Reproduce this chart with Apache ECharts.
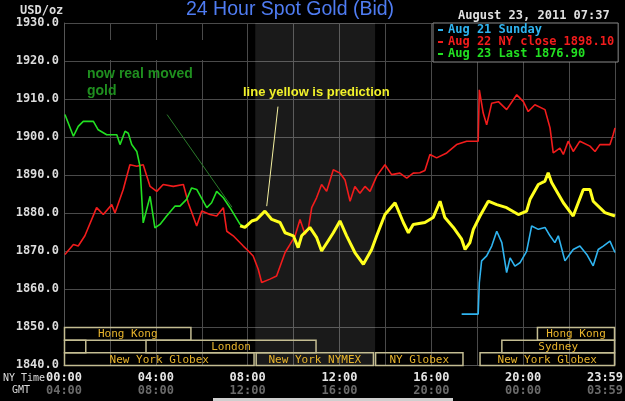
<!DOCTYPE html>
<html>
<head>
<meta charset="utf-8">
<script src="https://cdn.jsdelivr.net/npm/echarts@6/dist/echarts.min.js"></script>
<style>
  html, body { margin: 0; padding: 0; background: #000; }
  #chart { width: 625px; height: 401px; }
</style>
</head>
<body>
<div id="chart"></div>
<script>
// NY time in hours, price in USD/oz
var aug21Sunday = [
    [17.32, 1853.4], [18.04, 1853.4], [18.09, 1861.7], [18.19, 1867.4], [18.41, 1868.7],
    [18.63, 1871.3], [18.85, 1875.2], [19.07, 1872.2], [19.28, 1864.3], [19.43, 1868.2],
    [19.64, 1866.0], [19.86, 1866.9], [20.15, 1869.9], [20.37, 1876.6], [20.66, 1875.7],
    [20.95, 1876.2], [21.17, 1874.0], [21.38, 1872.2], [21.53, 1874.0], [21.82, 1867.4],
    [22.18, 1870.4], [22.47, 1871.3], [22.77, 1869.1], [23.05, 1866.1], [23.27, 1870.4],
    [23.49, 1871.3], [23.78, 1872.6], [24.0, 1869.6]
];
var aug22Close = [
    [0.04, 1869.1], [0.41, 1871.7], [0.62, 1871.3], [0.91, 1874.0], [1.42, 1881.4],
    [1.71, 1879.6], [2.08, 1882.2], [2.22, 1880.0], [2.58, 1886.2], [2.87, 1892.7],
    [3.17, 1892.3], [3.45, 1892.7], [3.75, 1887.0], [4.04, 1885.7], [4.32, 1887.5],
    [4.76, 1887.0], [5.20, 1887.5], [5.41, 1882.7], [5.78, 1876.6], [6.00, 1880.5],
    [6.36, 1879.6], [6.65, 1879.2], [6.94, 1881.4], [7.09, 1875.2], [7.37, 1874.0],
    [7.81, 1871.3], [8.03, 1870.0], [8.24, 1868.7], [8.46, 1865.2], [8.61, 1861.7],
    [8.97, 1862.6], [9.26, 1863.4], [9.63, 1869.6], [9.84, 1871.7], [10.06, 1873.9],
    [10.28, 1878.3], [10.50, 1874.4], [10.64, 1875.8], [10.79, 1881.4], [11.00, 1884.0],
    [11.22, 1887.5], [11.44, 1885.7], [11.73, 1891.4], [12.02, 1890.5], [12.24, 1888.7],
    [12.46, 1883.1], [12.67, 1887.0], [12.89, 1885.2], [13.11, 1887.0], [13.33, 1885.7],
    [13.62, 1889.7], [13.98, 1892.7], [14.27, 1890.1], [14.63, 1890.5], [14.93, 1889.2],
    [15.21, 1890.5], [15.50, 1890.6], [15.72, 1891.2], [15.94, 1895.4], [16.23, 1894.5],
    [16.67, 1895.8], [17.10, 1898.0], [17.54, 1898.9], [18.04, 1898.9], [18.09, 1912.4],
    [18.26, 1906.3], [18.41, 1903.2], [18.63, 1908.9], [18.92, 1909.3], [19.28, 1907.2],
    [19.72, 1911.1], [20.01, 1909.3], [20.22, 1906.7], [20.51, 1908.5], [20.95, 1907.2],
    [21.17, 1902.4], [21.31, 1895.8], [21.60, 1897.1], [21.75, 1895.4], [21.96, 1898.9],
    [22.18, 1896.2], [22.47, 1898.9], [22.91, 1897.6], [23.13, 1896.2], [23.34, 1898.0],
    [23.78, 1898.0], [23.92, 1900.6], [24.0, 1902.4]
];
var aug23Last = [
    [0.04, 1905.9], [0.41, 1900.2], [0.62, 1902.8], [0.84, 1904.1], [1.28, 1904.1],
    [1.49, 1901.9], [1.86, 1900.6], [2.30, 1900.6], [2.44, 1898.0], [2.66, 1901.5],
    [2.80, 1901.0], [2.95, 1898.0], [3.17, 1896.2], [3.31, 1892.3], [3.45, 1877.4],
    [3.75, 1884.4], [3.96, 1876.1], [4.18, 1877.0], [4.47, 1879.2], [4.83, 1881.8],
    [5.05, 1881.8], [5.34, 1883.6], [5.56, 1886.6], [5.78, 1886.2], [6.22, 1881.4],
    [6.43, 1882.7], [6.65, 1885.7], [6.94, 1884.0], [7.23, 1881.4], [7.67, 1877.0],
    [7.81, 1876.6]
];
var prediction = [
    [7.67, 1876.6], [7.88, 1876.2], [8.18, 1877.9], [8.39, 1878.3], [8.75, 1880.5],
    [9.05, 1878.3], [9.41, 1877.5], [9.63, 1874.8], [9.99, 1874.0], [10.20, 1870.9],
    [10.35, 1874.0], [10.71, 1876.2], [11.00, 1873.6], [11.22, 1870.0], [11.51, 1872.7],
    [11.73, 1874.8], [12.02, 1877.9], [12.31, 1874.0], [12.67, 1869.6], [13.04, 1866.5],
    [13.40, 1870.4], [13.62, 1874.0], [13.98, 1879.6], [14.42, 1882.7], [14.78, 1877.5],
    [15.00, 1874.8], [15.21, 1877.0], [15.72, 1877.5], [16.08, 1878.8], [16.38, 1883.1],
    [16.59, 1878.8], [16.96, 1876.2], [17.32, 1873.1], [17.47, 1870.4], [17.68, 1872.2],
    [17.83, 1875.7], [18.12, 1879.2], [18.48, 1883.1], [18.85, 1882.2], [19.28, 1881.4],
    [19.79, 1879.6], [20.15, 1880.5], [20.30, 1883.6], [20.66, 1887.5], [20.95, 1888.4],
    [21.09, 1890.6], [21.24, 1888.0], [21.75, 1882.7], [22.18, 1879.2], [22.40, 1882.7],
    [22.62, 1886.2], [22.91, 1886.2], [23.05, 1883.1], [23.56, 1880.1], [24.0, 1879.2]
];
// market sessions: [start, end, row, label]
var sessions = [
    [0, 5.55, 0, 'Hong Kong'],
    [20.6, 24, 0, 'Hong Kong'],
    [0, 0.97, 1, ''],
    [3.55, 11.0, 1, 'London'],
    [19.05, 24, 1, 'Sydney'],
    [0, 8.3, 2, 'New York Globex'],
    [8.35, 13.5, 2, 'New York NYMEX'],
    [13.55, 17.4, 2, 'NY Globex'],
    [18.1, 24, 2, 'New York Globex']
];
var nymexShade = [8.33, 13.55];
var sessionRows = ['r0', 'r1', 'r2'];
var mono = 'DejaVu Sans Mono';

function pad(n) { return (n < 10 ? '0' : '') + n; }

var chart = echarts.init(document.getElementById('chart'));

var option = {
    backgroundColor: '#000',
    animation: false,
    title: {
        text: '24 Hour Spot Gold (Bid)',
        left: 186, top: 0, padding: 0,
        textStyle: { color: '#4f7cf2', fontSize: 19.5, fontWeight: 'normal', fontFamily: 'Liberation Sans' }
    },
    legend: {
        orient: 'vertical',
        left: 433, top: 23,
        icon: 'rect', itemWidth: 5, itemHeight: 2, itemGap: 0,
        padding: [1, 4, 2, 5],
        backgroundColor: '#000', borderColor: '#8a8a8a', borderWidth: 1, borderRadius: 0,
        selectedMode: false,
        textStyle: { fontFamily: mono, fontSize: 12, fontWeight: 'bold', lineHeight: 12 },
        data: [
            { name: 'Aug 21 Sunday', textStyle: { color: '#2fb4f0' } },
            { name: 'Aug 22 NY close 1898.10', textStyle: { color: '#f21c1c' } },
            { name: 'Aug 23 Last 1876.90', textStyle: { color: '#22e022' } }
        ]
    },
    grid: [
        { left: 64, right: 10, top: 23, bottom: 36, containLabel: false, outerBoundsMode: 'none' },
        { left: 64, right: 10, top: 327, height: 38, containLabel: false, outerBoundsMode: 'none' }
    ],
    xAxis: [{
        type: 'value', min: 0, max: 24, interval: 2,
        axisLine: { lineStyle: { color: '#555' } },
        axisTick: { show: false },
        splitLine: { lineStyle: { color: '#4a4a4a' } },
        axisLabel: {
            margin: 6,
            formatter: function (v) {
                if (v % 4 !== 0) return '';
                if (v === 24) return '{al|23:59}\n{bl|03:59}';
                return '{a|' + pad(v) + ':00}\n{b|' + pad((v + 4) % 24) + ':00}';
            },
            rich: {
                a: { color: '#e6e6e6', fontFamily: mono, fontSize: 12, fontWeight: 'bold', lineHeight: 13 },
                b: { color: '#6a6a6a', fontFamily: mono, fontSize: 12, fontWeight: 'bold', lineHeight: 13 },
                al: { color: '#e6e6e6', fontFamily: mono, fontSize: 12, fontWeight: 'bold', lineHeight: 13, padding: [0, 20, 0, 0] },
                bl: { color: '#6a6a6a', fontFamily: mono, fontSize: 12, fontWeight: 'bold', lineHeight: 13, padding: [0, 20, 0, 0] }
            }
        }
    }, {
        gridIndex: 1, type: 'value', min: 0, max: 24, show: false
    }],
    yAxis: [{
        type: 'value', min: 1840, max: 1930, interval: 10,
        axisLine: { show: true, lineStyle: { color: '#555' } },
        axisTick: { show: false },
        splitLine: { lineStyle: { color: '#4a4a4a' } },
        axisLabel: {
            margin: 5,
            color: '#dcdcdc', fontFamily: mono, fontSize: 12, fontWeight: 'bold',
            formatter: function (v) { return v.toFixed(1); }
        }
    }, {
        gridIndex: 1, type: 'category', data: sessionRows, inverse: true, show: false
    }],
    series: [{
        name: 'Aug 22 NY close 1898.10',
        type: 'line', showSymbol: false, data: aug22Close,
        lineStyle: { color: '#f21c1c', width: 1.6 }, itemStyle: { color: '#f21c1c' },
        markArea: {
            silent: true,
            itemStyle: { color: 'rgba(255,255,255,0.1)' },
            data: [[{ xAxis: nymexShade[0], yAxis: 1840 }, { xAxis: nymexShade[1], yAxis: 1930 }]]
        },
        z: 3
    }, {
        name: 'Aug 21 Sunday',
        type: 'line', showSymbol: false, data: aug21Sunday,
        lineStyle: { color: '#2fb4f0', width: 1.6 }, itemStyle: { color: '#2fb4f0' },
        z: 3
    }, {
        name: 'Aug 23 Last 1876.90',
        type: 'line', showSymbol: false, data: aug23Last,
        lineStyle: { color: '#22e022', width: 1.6 }, itemStyle: { color: '#22e022' },
        markLine: {
            silent: true, symbol: 'none', label: { show: false },
            lineStyle: { color: '#2a7a2a', width: 1, type: 'solid' },
            data: [[{ coord: [4.49, 1905.9] }, { coord: [7.32, 1881.5] }]]
        },
        z: 3
    }, {
        name: 'prediction',
        type: 'line', showSymbol: false, data: prediction,
        lineStyle: { color: '#ffff1e', width: 3 }, itemStyle: { color: '#ffff1e' },
        markLine: {
            silent: true, symbol: 'none', label: { show: false },
            lineStyle: { color: '#f4f0a0', width: 1, type: 'solid' },
            data: [[{ coord: [8.83, 1881.8] }, { coord: [9.32, 1908.0] }]]
        },
        z: 4
    }, {
        type: 'custom',
        xAxisIndex: 1, yAxisIndex: 1,
        data: sessions,
        silent: true,
        renderItem: function (params, api) {
            var p0 = api.coord([api.value(0), api.value(2)]);
            var p1 = api.coord([api.value(1), api.value(2)]);
            var h = api.size([0, 1])[1];
            var label = sessions[params.dataIndex][3];
            return {
                type: 'group',
                children: [{
                    type: 'rect',
                    shape: { x: p0[0] + 0.5, y: p0[1] - h / 2 + 0.5, width: p1[0] - p0[0] - 1, height: h },
                    style: { fill: null, stroke: '#c4bd92', lineWidth: 1.5 }
                }, {
                    type: 'text',
                    x: (p0[0] + p1[0]) / 2, y: p0[1] + 1,
                    style: {
                        text: label, fill: '#e8b42c', font: '11px "DejaVu Sans Mono"',
                        align: 'center', verticalAlign: 'middle'
                    }
                }]
            };
        },
        z: 5
    }],
    graphic: [
        { type: 'rect', shape: { x: 65, y: 40, width: 140, height: 20 }, style: { fill: '#000' }, z: 1 },
        { type: 'text', z: 100, x: 20, y: 11, style: { text: 'USD/oz', fill: '#dcdcdc', font: 'bold 12px "DejaVu Sans Mono"', verticalAlign: 'middle' } },
        { type: 'text', z: 100, x: 458, y: 16, style: { text: 'August 23, 2011 07:37', fill: '#e0e0e0', font: 'bold 12px "DejaVu Sans Mono"', verticalAlign: 'middle' } },
        { type: 'text', z: 100, x: 3, y: 378, style: { text: 'NY Time', fill: '#dcdcdc', font: '10px "DejaVu Sans Mono"', verticalAlign: 'middle' } },
        { type: 'text', z: 100, x: 12, y: 390, style: { text: 'GMT', fill: '#dcdcdc', font: '10px "DejaVu Sans Mono"', verticalAlign: 'middle' } },
        { type: 'text', z: 100, x: 87, y: 74, style: { text: 'now real moved', fill: '#1f8f1f', font: 'bold 14px "Liberation Sans"', verticalAlign: 'middle' } },
        { type: 'text', z: 100, x: 87, y: 91, style: { text: 'gold', fill: '#1f8f1f', font: 'bold 14px "Liberation Sans"', verticalAlign: 'middle' } },
        { type: 'text', z: 100, x: 243, y: 92, style: { text: 'line yellow is prediction', fill: '#f2f22a', font: 'bold 13px "Liberation Sans"', verticalAlign: 'middle' } },
        { type: 'rect', z: 100, shape: { x: 213, y: 398, width: 240, height: 3 }, style: { fill: '#cfcfcf' } }
    ]
};

chart.setOption(option);
</script>
</body>
</html>
